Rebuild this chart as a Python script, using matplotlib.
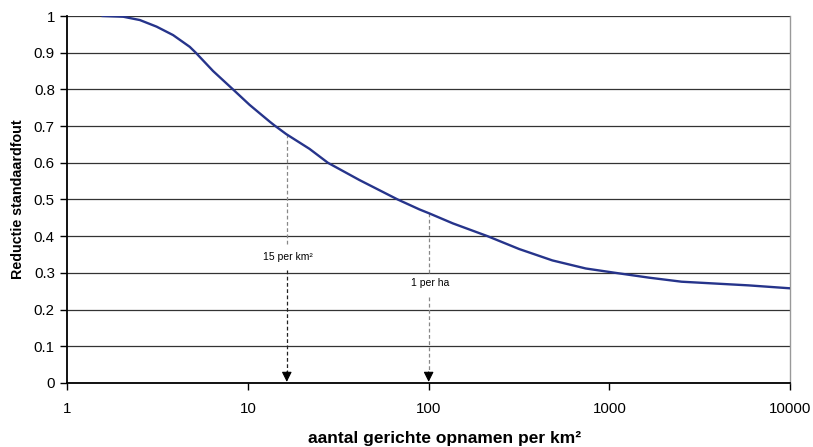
import matplotlib.pyplot as plt
import matplotlib.ticker as mticker
import numpy as np

plt.rcParams['font.family'] = ['Liberation Sans', 'DejaVu Sans']

# curve
dichtheid = [1.57, 2.04, 2.52, 3.12, 3.85, 4.76, 5.14, 6.41, 8.26, 10.2, 11.6,
             13.2, 14.0, 16.3, 21.9, 27.7, 41.4, 67.4, 88.9, 101, 136, 212,
             317, 484, 741, 1085, 1660, 2510, 5900, 10000]
reductie = [1.0, 0.998, 0.989, 0.971, 0.948, 0.916, 0.90, 0.85, 0.80, 0.758, 0.735,
            0.712, 0.702, 0.678, 0.638, 0.60, 0.553, 0.50, 0.473, 0.462, 0.435, 0.40,
            0.365, 0.334, 0.312, 0.30, 0.287, 0.276, 0.266, 0.258]

# marker lines: x position, curve value, label, label height, gap below/above label
markers = [
    (16.4, 0.678, '15 per km²', 0.344, 0.308, 0.372, '#222222', '#888888'),
    (100, 0.462, '1 per ha', 0.272, 0.235, 0.30, '#888888', '#888888'),
]

yticks = np.arange(0, 1.01, 0.1)
xticks = [1, 10, 100, 1000, 10000]

fig = plt.figure(figsize=(8.13, 4.47), dpi=100)
ax = fig.add_axes([0.0828, 0.1432, 0.8889, 0.8210])

for y in yticks:
    ax.axhline(y, color='#333333', lw=0.9, zorder=1)

ax.plot(dichtheid, reductie, color='#26348B', lw=1.7, zorder=3)

for xm, ym, lab, ylab, gap_lo, gap_hi, c_lo, c_hi in markers:
    ax.plot([xm, xm], [ym, gap_hi], ls=(0, (3, 2)), color=c_hi, lw=0.9, zorder=2)
    ax.plot([xm, xm], [gap_lo, 0.03], ls=(0, (3, 2)), color=c_lo, lw=0.9, zorder=2)
    ax.annotate('', xy=(xm, 0.003), xytext=(xm, 0.03),
                arrowprops=dict(arrowstyle='-|>', color='black', lw=0.8,
                                mutation_scale=15, shrinkA=0, shrinkB=0), zorder=4)
    ax.text(xm * 1.02, ylab, lab, ha='center', va='center', fontsize=7.5, zorder=4)

ax.set_xscale('log')
ax.set_xlim(1, 10000)
ax.set_ylim(0, 1)
ax.set_xticks(xticks)
ax.xaxis.set_major_formatter(mticker.FuncFormatter(lambda v, p: '%d' % v))
ax.xaxis.set_minor_locator(mticker.NullLocator())
ax.set_yticks(yticks)
ax.set_yticklabels(['0'] + ['%.1f' % v for v in yticks[1:-1]] + ['1'])

ax.tick_params(axis='both', direction='out', length=5, width=1, labelsize=10.8, color='black')
ax.tick_params(axis='x', pad=8.5)
ax.tick_params(axis='y', pad=4)

ax.spines['left'].set_color('black')
ax.spines['left'].set_linewidth(1.3)
ax.spines['bottom'].set_color('black')
ax.spines['bottom'].set_linewidth(1.3)
ax.spines['right'].set_color('#999999')
ax.spines['right'].set_linewidth(1.0)
ax.spines['top'].set_visible(False)

ax.set_ylabel('Reductie standaardfout', fontsize=10.3, fontweight='bold', labelpad=6)
fig.text(445 / 813, 1 - 443 / 447, 'aantal gerichte opnamen per km²',
         fontsize=12.5, fontweight='bold', ha='center', va='baseline')

fig.savefig('out.png', dpi=100)
